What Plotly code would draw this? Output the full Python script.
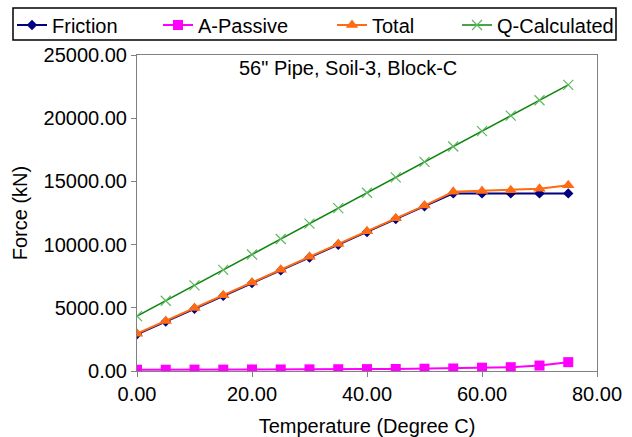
import plotly.graph_objects as go

# Temperature steps (Degree C)
temperature = [0, 5, 10, 15, 20, 25, 30, 35, 40, 45, 50, 55, 60, 65, 70, 75]

# Forces (kN)
friction = [2900, 3910, 4920, 5940, 6950, 7960, 8980, 9990, 11000, 12020,
            13030, 14050, 14050, 14050, 14050, 14050]
a_passive = [100, 100, 110, 110, 120, 120, 130, 140, 150, 160,
             180, 200, 260, 300, 430, 700]
total = [2950, 3960, 4980, 5990, 7000, 8020, 9030, 10050, 11060, 12080,
         13090, 14180, 14250, 14300, 14420, 14700]
q_calculated = [4340, 5560, 6780, 8000, 9220, 10440, 11660, 12880, 14100,
                15320, 16540, 17760, 18980, 20200, 21420, 22640]

x_ticks = [0, 20, 40, 60, 80]
y_ticks = [0, 5000, 10000, 15000, 20000, 25000]

FONT = "Liberation Sans, Arial, sans-serif"
FS = 20

fig = go.Figure()

fig.add_trace(go.Scatter(
    x=temperature, y=q_calculated, name="Q-Calculated", mode="lines+markers",
    line=dict(color="#0d840d", width=1.5),
    marker=dict(symbol="x-thin", size=10, line=dict(color="#5cb85c", width=1.2)),
    legend="legend4"))
fig.add_trace(go.Scatter(
    x=temperature, y=friction, name="Friction", mode="lines+markers",
    line=dict(color="#000080", width=2),
    marker=dict(symbol="diamond", size=8, color="#000080"),
    legend="legend"))
fig.add_trace(go.Scatter(
    x=temperature, y=total, name="Total", mode="lines+markers",
    line=dict(color="#ff6a13", width=2),
    marker=dict(symbol="triangle-up", size=11, color="#ff6a13"),
    legend="legend3"))
fig.add_trace(go.Scatter(
    x=temperature, y=a_passive, name="A-Passive", mode="lines+markers",
    line=dict(color="#ff00ff", width=2),
    marker=dict(symbol="square", size=10, color="#ff00ff"),
    legend="legend2"))

legend_common = dict(
    orientation="h", xref="container", yref="container",
    xanchor="left", yanchor="middle", y=1 - 25 / 437,
    bgcolor="rgba(0,0,0,0)", borderwidth=0,
    font=dict(family=FONT, size=FS, color="black"),
)

fig.update_layout(
    width=632, height=437,
    margin=dict(l=137, r=35, t=55, b=66, autoexpand=False),
    paper_bgcolor="white", plot_bgcolor="white",
    font=dict(family=FONT, size=FS, color="black"),
    showlegend=True,
    legend=dict(legend_common, x=12 / 632),
    legend2=dict(legend_common, x=158 / 632),
    legend3=dict(legend_common, x=332 / 632),
    legend4=dict(legend_common, x=457 / 632),
    xaxis=dict(
        range=[0, 80], tickvals=x_ticks, ticktext=[f"{v:.2f}" for v in x_ticks],
        showgrid=False, zeroline=False, showline=True, mirror=True,
        linecolor="#808080", linewidth=1, ticks="outside", ticklen=5,
        tickcolor="#808080", automargin=False,
        tickfont=dict(family=FONT, size=FS, color="black"),
        title=dict(text="Temperature (Degree C)", standoff=14,
                   font=dict(family=FONT, size=FS, color="black")),
    ),
    yaxis=dict(
        range=[0, 25000], tickvals=y_ticks, ticktext=[f"{v:.2f}" for v in y_ticks],
        showgrid=False, zeroline=False, showline=True, mirror=True,
        linecolor="#808080", linewidth=1, ticks="outside", ticklen=5,
        tickcolor="#808080", automargin=False,
        tickfont=dict(family=FONT, size=FS, color="black"),
        title=dict(text="Force (kN)", standoff=10,
                   font=dict(family=FONT, size=FS, color="black")),
    ),
    annotations=[dict(
        text="56\" Pipe, Soil-3, Block-C", xref="paper", yref="paper",
        x=0.459, y=0.958, xanchor="center", yanchor="middle", showarrow=False,
        font=dict(family=FONT, size=FS, color="black"))],
    shapes=[dict(
        type="rect", xref="paper", yref="paper",
        x0=-124 / 460, x1=479 / 460, y0=(371 - 40) / 316, y1=(371 - 8) / 316,
        line=dict(color="black", width=1.5), fillcolor="rgba(0,0,0,0)",
        layer="above")],
)

fig.write_html("out.html")
